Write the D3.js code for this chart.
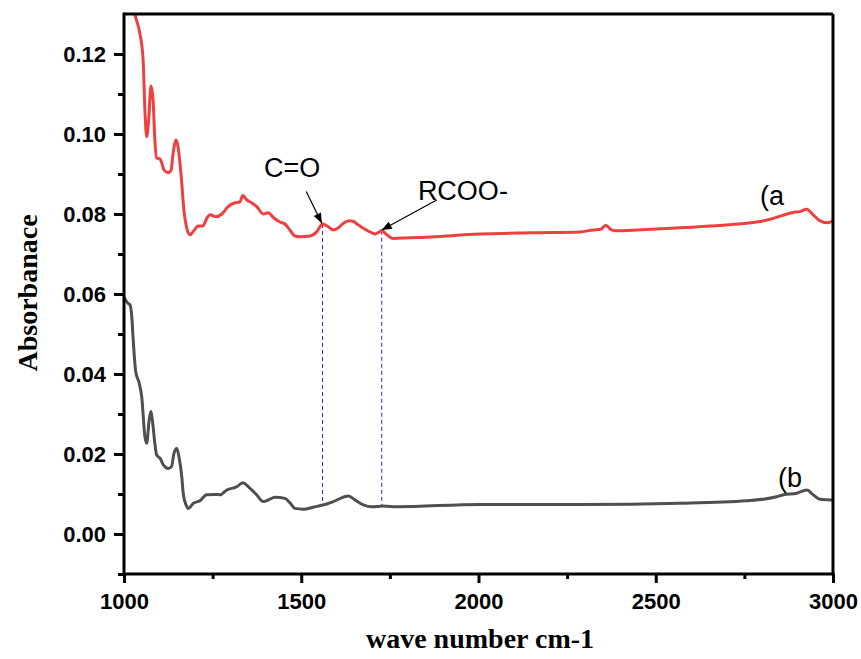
<!DOCTYPE html>
<html>
<head>
<meta charset="utf-8">
<script src="https://cdn.jsdelivr.net/npm/d3@7"></script>
<style>
  html, body { margin: 0; padding: 0; background: #fff; }
  svg { display: block; }
</style>
</head>
<body>
<svg id="chart" width="861" height="659"></svg>
<script>
// ---- Data ----
const waveA = [1000,1015,1031,1045,1054,1059,1064,1070,1076,1082,1087,1092,1102,1113,1124,1133,1138,1147,1152,1161,1169,1177,1186,1197,1209,1222,1234,1243,1260,1276,1293,1313,1327,1335,1347,1360,1375,1393,1406,1423,1440,1454,1468,1482,1496,1525,1544,1560,1576,1590,1604,1619,1635,1646,1660,1674,1694,1708,1716,1727,1739,1759,1850,2004,2150,2286,2323,2345,2359,2372,2385,2512,2653,2794,2831,2887,2907,2926,2944,2963,2982,3000];
const absA  = [0.146,0.140,0.130,0.125,0.1185,0.106,0.0993,0.104,0.112,0.1085,0.0985,0.094,0.0937,0.091,0.0903,0.091,0.0948,0.0985,0.097,0.0898,0.081,0.0765,0.0748,0.0758,0.077,0.077,0.079,0.0798,0.0793,0.080,0.0818,0.0828,0.083,0.0846,0.0835,0.0828,0.0818,0.080,0.0803,0.079,0.078,0.0775,0.076,0.0745,0.0743,0.0745,0.0756,0.0775,0.0768,0.076,0.0765,0.0777,0.0783,0.0782,0.0773,0.0765,0.0755,0.075,0.0753,0.0758,0.075,0.0739,0.0742,0.075,0.0753,0.0755,0.076,0.0762,0.0772,0.0762,0.0758,0.0763,0.077,0.0781,0.0789,0.0804,0.0806,0.0812,0.0798,0.0783,0.0778,0.0783];

const waveB = [1000,1011,1017,1022,1026,1033,1043,1050,1059,1064,1071,1076,1080,1087,1092,1102,1111,1125,1134,1141,1149,1155,1163,1167,1175,1181,1196,1214,1233,1257,1271,1290,1318,1335,1351,1374,1393,1407,1426,1454,1468,1482,1506,1534,1564,1590,1633,1652,1675,1699,1731,1769,2004,2286,2568,2756,2841,2860,2898,2926,2944,2963,2997,3000];
const absB  = [0.0592,0.0577,0.0573,0.0543,0.0485,0.0406,0.0377,0.0343,0.0243,0.0227,0.0285,0.0306,0.0285,0.0227,0.0198,0.0189,0.0173,0.0164,0.0168,0.0202,0.0214,0.0193,0.0143,0.0102,0.0073,0.0064,0.0077,0.0083,0.0098,0.0099,0.0098,0.011,0.0118,0.0128,0.0118,0.0098,0.0081,0.0085,0.0092,0.0089,0.0078,0.0064,0.0062,0.0067,0.0073,0.0081,0.0095,0.0085,0.0073,0.0068,0.007,0.0068,0.0074,0.0074,0.0077,0.0083,0.0093,0.0098,0.0102,0.011,0.0098,0.0087,0.0085,0.0085];

const xTicks = [1000,1500,2000,2500,3000];
const xMinorTicks = [1250,1750,2250,2750];
const yTicks = [0.00,0.02,0.04,0.06,0.08,0.10,0.12];
const yMinorTicks = [-0.01,0.01,0.03,0.05,0.07,0.09,0.11];

// marker lines: wavenumber, top value (curve a), bottom value (curve b)
const markerWave = [1560, 1727];
const markerTop = [0.0775, 0.0758];
const markerBottom = [0.0073, 0.0070];

// annotation labels
const annoText = ["C=O", "RCOO-"];
const annoWave = [1395, 1829];
const annoVal = [0.0892, 0.0835];
// arrows: start -> end
const arrowFromWave = [1514, 1882];
const arrowFromVal = [0.0856, 0.0835];
const arrowToWave = [1558, 1727];
const arrowToVal = [0.0777, 0.0760];

const seriesLabels = ["(a", "(b"];
const seriesLabelWave = [2794, 2845];
const seriesLabelVal = [0.0822, 0.01175];

// ---- Drawing ----
const svg = d3.select("#chart");
const x = d3.scaleLinear().domain([1000, 3000]).range([124, 833]);
const y = d3.scaleLinear().domain([-0.01, 0.13]).range([574, 14]);

const defs = svg.append("defs");
defs.append("clipPath").attr("id", "plotclip")
  .append("rect").attr("x", 124).attr("y", 14).attr("width", 709).attr("height", 560);
defs.append("marker").attr("id", "arrowhead")
  .attr("viewBox", "0 0 10 10").attr("refX", 10).attr("refY", 5)
  .attr("markerWidth", 12).attr("markerHeight", 10).attr("markerUnits", "userSpaceOnUse")
  .attr("orient", "auto")
  .append("path").attr("d", "M0,1 L10,5 L0,9 Z").attr("fill", "#000");

const plot = svg.append("g").attr("clip-path", "url(#plotclip)");

// dashed marker lines
plot.selectAll(".marker").data(markerWave).enter().append("line")
  .attr("x1", d => x(d)).attr("x2", d => x(d))
  .attr("y1", (d, i) => y(markerTop[i])).attr("y2", (d, i) => y(markerBottom[i]))
  .attr("stroke", "#2a2ad8").attr("stroke-width", 1).attr("stroke-dasharray", "4,3");

const line = d3.line().x(d => x(d[0])).y(d => y(d[1])).curve(d3.curveMonotoneX);

plot.append("path").datum(waveB.map((w, i) => [w, absB[i]]))
  .attr("d", line).attr("fill", "none").attr("stroke", "#4f4f4f")
  .attr("stroke-width", 3).attr("stroke-linejoin", "round");

plot.append("path").datum(waveA.map((w, i) => [w, absA[i]]))
  .attr("d", line).attr("fill", "none").attr("stroke", "#ef4040")
  .attr("stroke-width", 3).attr("stroke-linejoin", "round");

// frame
svg.append("line").attr("x1", 124).attr("x2", 833).attr("y1", 14).attr("y2", 14)
  .attr("stroke", "#000").attr("stroke-width", 3);
svg.append("line").attr("x1", 833).attr("x2", 833).attr("y1", 14).attr("y2", 574)
  .attr("stroke", "#000").attr("stroke-width", 3);

const tickFont = "'Liberation Sans', Arial, sans-serif";

// axes
const xMinor = svg.append("g").attr("transform", "translate(0,574)")
  .call(d3.axisBottom(x).tickValues(xMinorTicks).tickSize(5).tickFormat(""));
const xAxis = svg.append("g").attr("transform", "translate(0,574)")
  .call(d3.axisBottom(x).tickValues(xTicks).tickSize(9).tickPadding(10).tickFormat(d3.format("d")));
const yMinor = svg.append("g").attr("transform", "translate(124,0)")
  .call(d3.axisLeft(y).tickValues(yMinorTicks).tickSize(6).tickFormat(""));
const yAxis = svg.append("g").attr("transform", "translate(124,0)")
  .call(d3.axisLeft(y).tickValues(yTicks).tickSize(10).tickPadding(8).tickFormat(d3.format(".2f")));

[xMinor, xAxis, yMinor, yAxis].forEach(g => {
  g.select(".domain").attr("stroke", "#000").attr("stroke-width", 3);
  g.selectAll(".tick line").attr("stroke", "#000").attr("stroke-width", 3);
  g.selectAll("text").attr("font-family", tickFont).attr("font-weight", "bold")
    .attr("font-size", 22).attr("fill", "#000");
});
xMinor.select(".domain").remove();
yMinor.select(".domain").remove();
xAxis.select(".domain").attr("d", "M122.5,0H834.5");
yAxis.select(".domain").attr("d", "M0,575.5V12.5");

// axis titles
svg.append("text").attr("x", 480).attr("y", 648).attr("text-anchor", "middle")
  .attr("font-family", "'Liberation Serif', 'Times New Roman', serif")
  .attr("font-weight", "bold").attr("font-size", 28).text("wave number cm-1");
svg.append("text").attr("transform", "translate(37,293) rotate(-90)").attr("text-anchor", "middle")
  .attr("font-family", "'Liberation Serif', 'Times New Roman', serif")
  .attr("font-weight", "bold").attr("font-size", 28).text("Absorbanace");

// annotations
svg.selectAll(".anno").data(annoText).enter().append("text")
  .attr("x", (d, i) => x(annoWave[i])).attr("y", (d, i) => y(annoVal[i]))
  .attr("font-family", tickFont).attr("font-size", 27).text(d => d);

svg.selectAll(".arrow").data(arrowFromWave).enter().append("line")
  .attr("x1", d => x(d)).attr("y1", (d, i) => y(arrowFromVal[i]))
  .attr("x2", (d, i) => x(arrowToWave[i])).attr("y2", (d, i) => y(arrowToVal[i]))
  .attr("stroke", "#000").attr("stroke-width", 1.2).attr("marker-end", "url(#arrowhead)");

svg.selectAll(".slabel").data(seriesLabels).enter().append("text")
  .attr("x", (d, i) => x(seriesLabelWave[i])).attr("y", (d, i) => y(seriesLabelVal[i]))
  .attr("font-family", tickFont).attr("font-size", 27).text(d => d);
</script>
</body>
</html>
